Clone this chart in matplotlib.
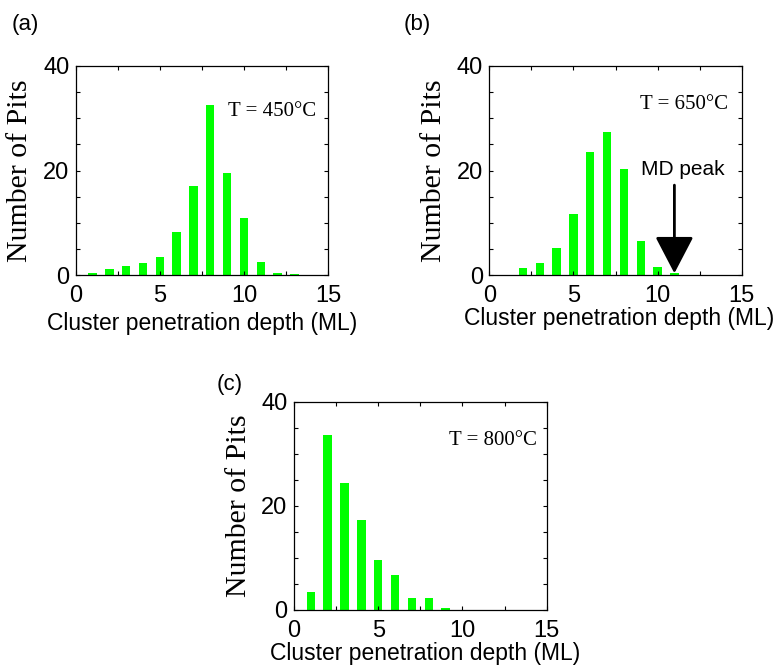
import matplotlib
matplotlib.use("Agg")
import matplotlib.pyplot as plt
from matplotlib.patches import FancyArrowPatch
from matplotlib.ticker import MultipleLocator

# ---- data ----
depth_a = [1, 2, 3, 4, 5, 6, 7, 8, 9, 10, 11, 12, 13]
pits_a = [0.45, 1.1, 1.66, 2.3, 3.5, 8.3, 17.0, 32.5, 19.5, 11.0, 2.55, 0.45, 0.25]

depth_b = [2, 3, 4, 5, 6, 7, 8, 9, 10, 11]
pits_b = [1.34, 2.36, 5.2, 11.7, 23.5, 27.4, 20.2, 6.6, 1.6, 0.45]

depth_c = [1, 2, 3, 4, 5, 6, 7, 8, 9]
pits_c = [3.4, 33.6, 24.4, 17.2, 9.55, 6.7, 2.37, 2.37, 0.45]

temps = ["T = 450\u00b0C", "T = 650\u00b0C", "T = 800\u00b0C"]
panel_labels = ["(a)", "(b)", "(c)"]
xlabel = "Cluster penetration depth (ML)"
ylabel = "Number of Pits"
md_label = "MD peak"
md_depth = 11

SANS = ["Liberation Sans", "DejaVu Sans"]
SERIF = ["Liberation Serif", "DejaVu Serif"]
GREEN = "#00ff00"

fig = plt.figure(figsize=(7.81, 6.68), dpi=100)
W, H = 781, 668

def make_ax(left, right, top, bottom):
    return fig.add_axes([left / W, 1 - bottom / H, (right - left) / W, (bottom - top) / H])

ax_a = make_ax(75.7, 328.0, 66.0, 275.0)
ax_b = make_ax(489.3, 741.7, 66.0, 275.0)
ax_c = make_ax(294.0, 546.7, 401.7, 610.0)

axes = [ax_a, ax_b, ax_c]
datasets = [(depth_a, pits_a), (depth_b, pits_b), (depth_c, pits_c)]
text_pos = [(14.3, 30.4), (14.2, 31.8), (14.4, 31.7)]
xlabel_xy = [(0.50, -0.175), (0.515, -0.155), (0.52, -0.156)]

for ax, (dx, dy), tt, tp, lxy in zip(axes, datasets, temps, text_pos, xlabel_xy):
    ax.bar(dx, dy, width=0.5, color=GREEN, edgecolor="none")
    ax.set_xlim(0, 15)
    ax.set_ylim(0, 40)
    ax.xaxis.set_major_locator(MultipleLocator(5))
    ax.xaxis.set_minor_locator(MultipleLocator(2.5))
    ax.yaxis.set_major_locator(MultipleLocator(20))
    ax.yaxis.set_minor_locator(MultipleLocator(5))
    ax.tick_params(which="both", direction="in", top=True, right=True, width=0.8)
    ax.tick_params(which="major", length=3)
    ax.tick_params(which="minor", length=3)
    ax.tick_params(axis="x", which="major", pad=7)
    ax.tick_params(axis="y", which="major", pad=4.6)
    for lab in ax.get_xticklabels() + ax.get_yticklabels():
        lab.set_fontfamily(SANS)
        lab.set_fontsize(17)
    for sp in ax.spines.values():
        sp.set_linewidth(0.9)
    ax.set_xlabel(xlabel, family=SANS, fontsize=16.5)
    ax.xaxis.set_label_coords(lxy[0], lxy[1])
    ax.set_ylabel(ylabel, family=SERIF, fontsize=21.5, labelpad=7)
    ax.text(tp[0], tp[1], tt, family=SERIF, fontsize=15, ha="right", va="baseline")

# MD peak annotation on (b)
ax_b.text(11.53, 19.1, md_label, family=SANS, fontsize=15, ha="center", va="baseline")
arrow = FancyArrowPatch((md_depth, 17.2), (md_depth, 0.33),
                        arrowstyle="-|>,head_length=23,head_width=12",
                        mutation_scale=1, color="black", linewidth=2,
                        shrinkA=0, shrinkB=0)
ax_b.add_patch(arrow)

# panel labels
fig.text(12 / W, 1 - 30 / H, panel_labels[0], family=SANS, fontsize=16, ha="left", va="baseline")
fig.text(404 / W, 1 - 30 / H, panel_labels[1], family=SANS, fontsize=16, ha="left", va="baseline")
fig.text(217 / W, 1 - 390 / H, panel_labels[2], family=SANS, fontsize=16, ha="left", va="baseline")

fig.savefig("out.png", dpi=100)
